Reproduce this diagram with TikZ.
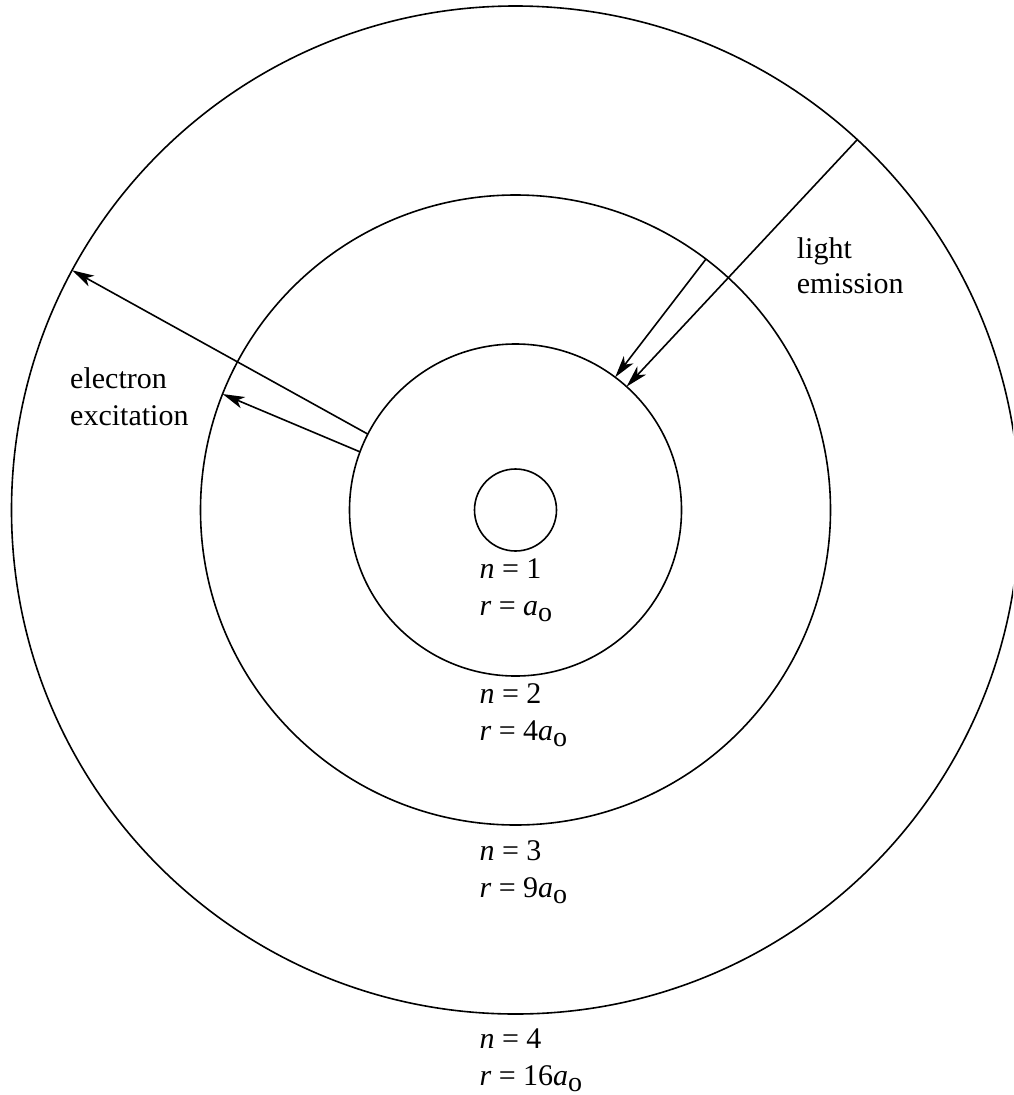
\documentclass[tikz,border=0pt]{standalone}
\usepackage{fontspec}
\setmainfont{Liberation Serif}
\usetikzlibrary{arrows.meta,calc}
\newcommand{\subo}{\raisebox{-6pt}{\fontsize{28}{28}\selectfont o}}
\begin{document}
\begin{tikzpicture}[x=1pt,y=-1pt,
  orbit/.style={draw=black,line width=1.6pt},
  ray/.style={line width=1.6pt,-{Stealth[length=22pt,width=12pt,inset=6pt]}},
  lbl/.style={inner sep=0pt,anchor=base west,font=\fontsize{30}{36}\selectfont}]
\useasboundingbox (0,0) rectangle (1013,1095);
\clip (0,0) rectangle (1013,1095);
\coordinate (O) at (515.5,510);
\draw[orbit] (O) circle[radius=41pt];
\draw[orbit] (O) circle[radius=166pt];
\draw[orbit] (O) circle[radius=315pt];
\draw[orbit] (O) circle[radius=504pt];
\coordinate (e1s) at ($(O)+(152.8:166pt)$);
\coordinate (e1e) at ($(O)+(151.6:504pt)$);
\coordinate (e2s) at ($(O)+(159.5:166pt)$);
\coordinate (e2e) at ($(O)+(158.4:315pt)$);
\coordinate (l1s) at ($(O)+(47.3:504pt)$);
\coordinate (l1e) at ($(O)+(48:166pt)$);
\coordinate (l2s) at ($(O)+(52.8:315pt)$);
\coordinate (l2e) at ($(O)+(53.1:166pt)$);
\draw[ray] (e1s) -- (e1e);
\draw[ray] (e2s) -- (e2e);
\draw[ray] (l1s) -- (l1e);
\draw[ray] (l2s) -- (l2e);
\node[lbl] (n1) at (479.3,578.3) {\textit{n} = 1};
\node[lbl] (r1) at (479.3,615) {\textit{r} = \textit{a}\subo};
\node[lbl] (n2) at (479.3,703.3) {\textit{n} = 2};
\node[lbl] (r2) at (479.3,740) {\textit{r} = 4\textit{a}\subo};
\node[lbl] (n3) at (479.3,860) {\textit{n} = 3};
\node[lbl] (r3) at (479.3,897) {\textit{r} = 9\textit{a}\subo};
\node[lbl] (n4) at (479.3,1048.3) {\textit{n} = 4};
\node[lbl] (r4) at (479.3,1085) {\textit{r} = 16\textit{a}\subo};
\node[lbl] (t1) at (70,388.3) {electron};
\node[lbl] (t2) at (70,425) {excitation};
\node[lbl] (t3) at (796.7,258.3) {light};
\node[lbl] (t4) at (796.7,293.3) {emission};
\end{tikzpicture}
\end{document}
